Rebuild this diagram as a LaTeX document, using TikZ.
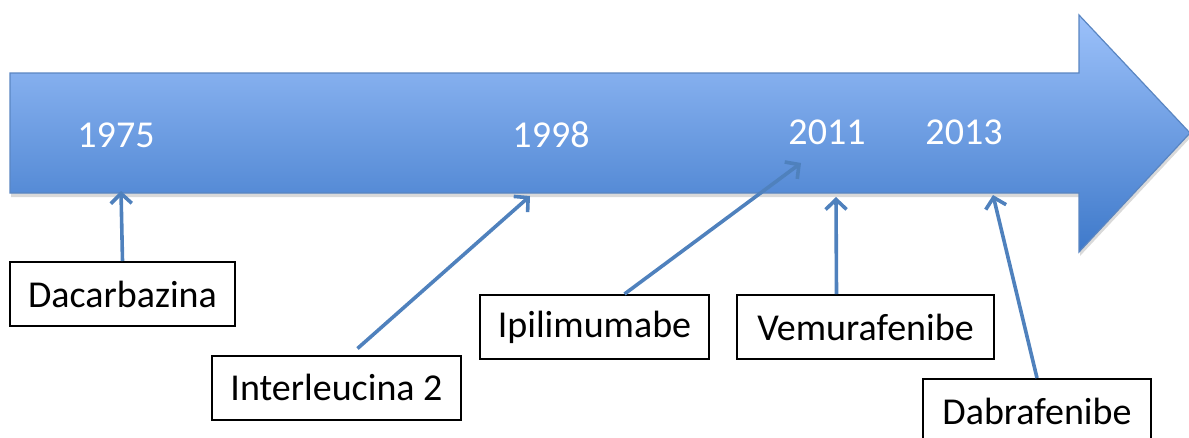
\documentclass[tikz,border=0pt]{standalone}
\usepackage{fontspec}
\setmainfont{Carlito}
\usepackage{tikz}
\usetikzlibrary{arrows.meta, shadows}
\definecolor{arrowtop}{HTML}{9CC1FA}
\definecolor{arrowbot}{HTML}{3E79CA}
\definecolor{arrowline}{HTML}{5A86C2}
\definecolor{pointer}{HTML}{4F81BD}

\begin{document}
\begin{tikzpicture}[x=1pt, y=-1pt,
    year/.style={white, font=\fontsize{38}{45}\selectfont},
    drug/.style={draw, line width=2pt, minimum height=64pt, font=\fontsize{38}{45}\selectfont},
    pointer/.style={draw=pointer, line width=3.6pt, -{Straight Barb[length=10pt, width=21pt]}}]
    \useasboundingbox (0, 0) rectangle (1189, 437);
    % Timeline arrow
    \path [top color=arrowtop, bottom color=arrowbot, draw=arrowline, line width=1.2pt,
        drop shadow={shadow xshift=1pt, shadow yshift=-4pt, opacity=0.3}]
        (10, 73) -- (1079, 73) -- (1079, 15) -- (1190, 133) -- (1079, 252)
        -- (1079, 193) -- (10, 193) -- cycle;
    % Years
    \node (y1975) at (116, 135) [year] {1975};
    \node (y1998) at (551, 135) [year] {1998};
    \node (y2011) at (827, 132) [year] {2011};
    \node (y2013) at (964, 132) [year] {2013};
    % Pointer tips
    \coordinate (t1975) at (121, 191);
    \coordinate (t1998) at (530, 196);
    \coordinate (t2011a) at (801, 163);
    \coordinate (t2011b) at (836, 197);
    \coordinate (t2013) at (993, 195);
    % Drugs
    \node (dac) at (122.5, 294) [drug, minimum width=225pt] {Dacarbazina};
    \node (il) at (336.5, 387.5) [drug, minimum width=249pt] {Interleucina 2};
    \node (ipi) at (594.5, 327) [drug, minimum width=229pt] {Ipilimumabe};
    \node (vem) at (865.5, 327) [drug, minimum width=257pt] {Vemurafenibe};
    \node (dab) at (1037, 411) [drug, minimum width=228pt] {Dabrafenibe};
    % Pointers
    \draw [pointer] (dac.north) -- (t1975);
    \draw [pointer] ([xshift=21pt, yshift=6pt]il.north) -- (t1998);
    \draw [pointer] ([xshift=30pt]ipi.north) -- (t2011a);
    \draw [pointer] ([xshift=-29pt]vem.north) -- (t2011b);
    \draw [pointer] (dab.north) -- (t2013);
\end{tikzpicture}
\end{document}
